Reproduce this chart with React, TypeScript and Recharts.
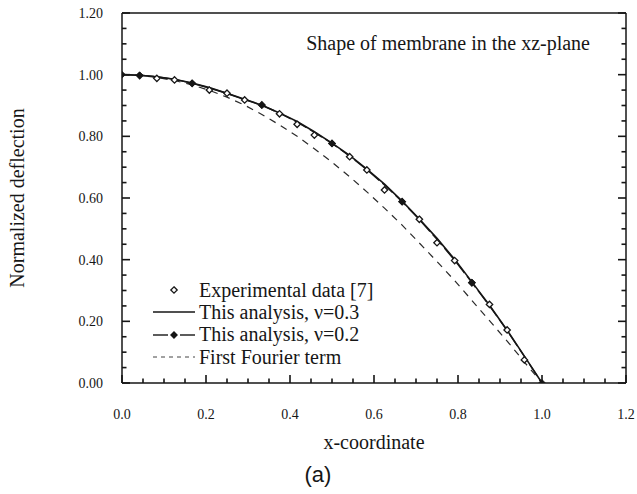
import React from 'react';
import { ComposedChart, Line, Scatter, XAxis, YAxis, Legend } from 'recharts';

const SERIF = '"Liberation Serif", "Times New Roman", serif';
const SANS = '"Liberation Sans", Arial, sans-serif';
const INK = '#161616';

// x positions of the computed curves (every 1/24)
const xGrid = [
  0, 0.042, 0.083, 0.125, 0.167, 0.208, 0.25, 0.292, 0.333, 0.375, 0.417, 0.458, 0.5,
  0.542, 0.583, 0.625, 0.667, 0.708, 0.75, 0.792, 0.833, 0.875, 0.917, 0.958, 1.0,
];
const nu03 = [
  1.0, 0.998, 0.993, 0.985, 0.973, 0.958, 0.94, 0.92, 0.901, 0.876, 0.848, 0.815, 0.778,
  0.738, 0.694, 0.645, 0.59, 0.532, 0.469, 0.401, 0.328, 0.252, 0.171, 0.087, 0.0,
];
const nu02 = [
  1.0, 0.998, 0.993, 0.985, 0.972, 0.957, 0.939, 0.919, 0.901, 0.875, 0.846, 0.813, 0.777,
  0.736, 0.692, 0.642, 0.588, 0.53, 0.466, 0.398, 0.326, 0.25, 0.17, 0.086, 0.0,
];
const fourier = [
  1.0, 0.998, 0.991, 0.981, 0.967, 0.949, 0.927, 0.901, 0.871, 0.837, 0.8, 0.76, 0.716,
  0.669, 0.62, 0.567, 0.512, 0.454, 0.394, 0.332, 0.268, 0.202, 0.136, 0.068, 0.0,
];
// points of the v=0.2 curve that carry a marker
const nu02MarkX = [0, 0.042, 0.167, 0.333, 0.5, 0.667, 0.833, 1.0];

// experimental data [7]
const expX = [
  0.042, 0.083, 0.125, 0.167, 0.208, 0.25, 0.292, 0.333, 0.375, 0.417, 0.458, 0.5,
  0.542, 0.583, 0.625, 0.667, 0.708, 0.75, 0.792, 0.833, 0.875, 0.917, 0.958,
];
const expY = [
  0.997, 0.988, 0.983, 0.972, 0.95, 0.94, 0.918, 0.902, 0.873, 0.839, 0.804, 0.777,
  0.734, 0.691, 0.626, 0.588, 0.531, 0.455, 0.397, 0.325, 0.255, 0.172, 0.075,
];

const axisTicks = [
  0, 0.05, 0.1, 0.15, 0.2, 0.25, 0.3, 0.35, 0.4, 0.45, 0.5, 0.55, 0.6, 0.65, 0.7, 0.75,
  0.8, 0.85, 0.9, 0.95, 1.0, 1.05, 1.1, 1.15, 1.2,
];

const legendNames = [
  'Experimental data [7]',
  'This analysis, \u03bd=0.3',
  'This analysis, \u03bd=0.2',
  'First Fourier term',
];

const toPoints = (xs: number[], ys: number[]) => xs.map((x, i) => ({ x, y: ys[i] }));
const nu03Data = toPoints(xGrid, nu03);
const nu02Data = toPoints(xGrid, nu02);
const fourierData = toPoints(xGrid, fourier);
const expData = toPoints(expX, expY);

const MAX = 1.2;
const TW = 1.6; // tick thickness

const isMajor = (v: number) => Math.abs(v / 0.2 - Math.round(v / 0.2)) < 1e-6;
const tickLen = (v: number) => (isMajor(v) ? 8 : 4.5);

const diamond = (cx: number, cy: number, r: number) =>
  `M${cx},${cy - r}L${cx + r},${cy}L${cx},${cy + r}L${cx - r},${cy}Z`;

// ticks point inward, drawn as thin filled bars
const BottomTick = ({ x, y, payload }: any) => {
  const len = tickLen(payload.value);
  return (
    <g>
      <rect x={x - TW / 2} y={y - len} width={TW} height={len} fill={INK} />
      {isMajor(payload.value) && (
        <text x={x} y={y + 36} textAnchor="middle" fontSize={14} fontFamily={SERIF} fill={INK}>
          {payload.value.toFixed(1)}
        </text>
      )}
    </g>
  );
};

const TopTick = ({ x, y, payload }: any) => (
  <rect x={x - TW / 2} y={y} width={TW} height={tickLen(payload.value)} fill={INK} />
);

const LeftTick = ({ x, y, payload }: any) => (
  <g>
    <rect x={x} y={y - TW / 2} width={tickLen(payload.value)} height={TW} fill={INK} />
    {isMajor(payload.value) && (
      <text x={x - 19} y={y + 5} textAnchor="end" fontSize={14} fontFamily={SERIF} fill={INK}>
        {payload.value.toFixed(2)}
      </text>
    )}
  </g>
);

const RightTick = ({ x, y, payload }: any) => {
  const len = tickLen(payload.value);
  return <rect x={x - len} y={y - TW / 2} width={len} height={TW} fill={INK} />;
};

const XTitle = ({ viewBox }: any) => (
  <g>
    <text x={viewBox.x + viewBox.width / 2} y={viewBox.y + 66} textAnchor="middle"
      fontSize={20} fontFamily={SERIF} fill={INK}>
      x-coordinate
    </text>
    <text x={viewBox.x + viewBox.width / 2 - 56} y={viewBox.y + 99} textAnchor="middle"
      fontSize={22} fontFamily={SANS} fill={INK}>
      (a)
    </text>
  </g>
);

const YTitle = ({ viewBox }: any) => {
  const cx = viewBox.x;
  const cy = viewBox.y + viewBox.height / 2;
  return (
    <text x={cx} y={cy} transform={`rotate(-90 ${cx} ${cy})`} textAnchor="middle"
      dominantBaseline="central" fontSize={20} fontFamily={SERIF} fill={INK}>
      Normalized deflection
    </text>
  );
};

const PlotTitle = ({ viewBox }: any) => (
  <text x={viewBox.x + viewBox.width - 36} y={viewBox.y + viewBox.height + 37} textAnchor="end"
    fontSize={20} fontFamily={SERIF} fill={INK}>
    Shape of membrane in the xz-plane
  </text>
);

const legendIcon = (i: number) => {
  if (i === 0) return <path d={diamond(21, 11, 3.2)} fill="#fff" stroke={INK} strokeWidth={1.3} />;
  if (i === 1) return <line x1={0} x2={42} y1={11} y2={11} stroke={INK} strokeWidth={1.4} />;
  if (i === 2)
    return (
      <g stroke={INK} strokeWidth={1.4}>
        <line x1={0} x2={15} y1={11} y2={11} />
        <line x1={27} x2={42} y1={11} y2={11} />
        <path d={diamond(21, 11, 3)} fill={INK} />
      </g>
    );
  return <line x1={0} x2={42} y1={11} y2={11} stroke="#444" strokeWidth={1} strokeDasharray="4 4" />;
};

const LegendBox = () => (
  <div style={{ fontFamily: SERIF, fontSize: 20, color: INK }}>
    {legendNames.map((name, i) => (
      <div key={name} style={{ display: 'flex', alignItems: 'center', height: 22.3, whiteSpace: 'nowrap' }}>
        <svg width={46} height={22} style={{ display: 'block' }}>{legendIcon(i)}</svg>
        <span>{name}</span>
      </div>
    ))}
  </div>
);

const nu02Dot = (props: any) => {
  const { cx, cy, payload, index } = props;
  if (!nu02MarkX.includes(payload.x)) return <g key={`n2-${index}`} />;
  return <path key={`n2-${index}`} d={diamond(cx, cy, 3.4)} fill={INK} stroke={INK} strokeWidth={0.8} />;
};

const expShape = (props: any) => (
  <path d={diamond(props.cx, props.cy, 3.2)} fill="#fff" stroke={INK} strokeWidth={1.3} />
);

const frameLine = { stroke: INK, strokeWidth: 1.5 };

export default function App() {
  return (
    <div style={{ position: 'absolute', left: 0, top: 0, background: '#fff' }}>
      <ComposedChart width={637} height={494} margin={{ top: 12, right: 10, bottom: 41, left: 17 }}>
        <XAxis xAxisId={0} dataKey="x" type="number" domain={[0, MAX]} ticks={axisTicks}
          interval={0} allowDataOverflow height={70} tickSize={0} tickMargin={0} tickLine={false}
          tick={BottomTick} axisLine={frameLine} label={{ content: XTitle }} />
        <XAxis xAxisId="top" orientation="top" type="number" domain={[0, MAX]} ticks={axisTicks}
          interval={0} allowDataOverflow height={1} tickSize={0} tickMargin={0} tickLine={false}
          tick={TopTick} axisLine={frameLine} label={{ content: PlotTitle }} />
        <YAxis yAxisId={0} type="number" domain={[0, MAX]} ticks={axisTicks} interval={0}
          allowDataOverflow width={105} tickSize={0} tickMargin={0} tickLine={false}
          tick={LeftTick} axisLine={frameLine} label={{ content: YTitle }} />
        <YAxis yAxisId="right" orientation="right" type="number" domain={[0, MAX]} ticks={axisTicks}
          interval={0} allowDataOverflow width={1} tickSize={0} tickMargin={0} tickLine={false}
          tick={RightTick} axisLine={frameLine} />
        <Legend layout="vertical" align="center" verticalAlign="middle" content={LegendBox}
          wrapperStyle={{ left: 153, top: 279, width: 280 }} />
        <Line data={fourierData} dataKey="y" name={legendNames[3]} type="linear" stroke="#2a2a2a"
          strokeWidth={1.2} strokeDasharray="7 6" dot={false} isAnimationActive={false} />
        <Line data={nu03Data} dataKey="y" name={legendNames[1]} type="linear" stroke={INK}
          strokeWidth={1.6} dot={false} isAnimationActive={false} />
        <Scatter data={expData} dataKey="y" name={legendNames[0]} shape={expShape}
          isAnimationActive={false} />
        <Line data={nu02Data} dataKey="y" name={legendNames[2]} type="linear" stroke={INK}
          strokeWidth={1.4} strokeDasharray="14 4" dot={nu02Dot} isAnimationActive={false} />
      </ComposedChart>
    </div>
  );
}
